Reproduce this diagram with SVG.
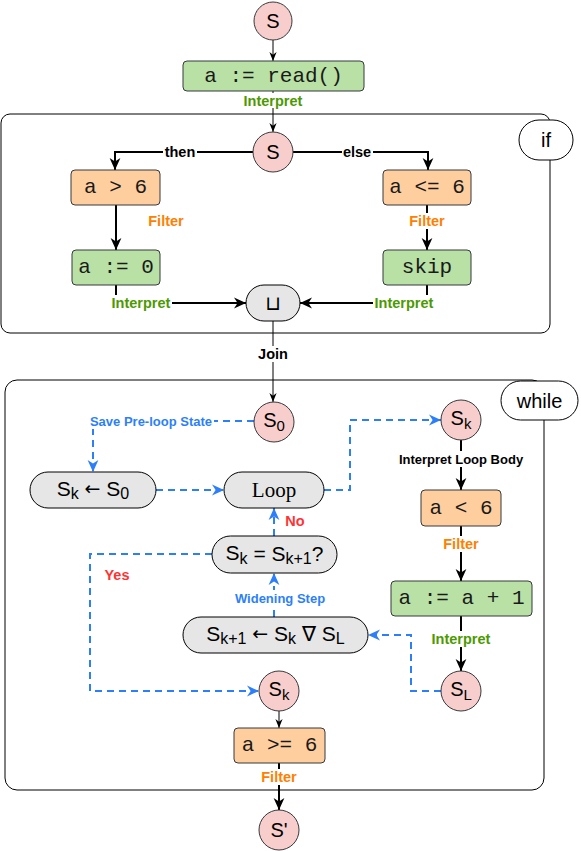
<svg xmlns="http://www.w3.org/2000/svg" width="581" height="851" viewBox="0 0 581 851">
<defs>
<style>
.bg{fill:#fff}
.circ{fill:#F8CECC;stroke:#36393d;stroke-width:1}
.org{fill:#FFCE9F;stroke:#36393d;stroke-width:1}
.grn{fill:#B9E0A5;stroke:#36393d;stroke-width:1}
.gry{fill:#E6E6E6;stroke:#000;stroke-width:1}
.cont{fill:none;stroke:#000;stroke-width:1}
.tag{fill:#fff;stroke:#000;stroke-width:1}
.code{font-family:"Liberation Mono","Courier New",monospace;font-size:21px;fill:#1a1a1a;text-anchor:middle;dominant-baseline:central}
.math{font-family:"Liberation Sans",Arial,"DejaVu Sans",sans-serif;font-size:21px;fill:#000;text-anchor:middle;dominant-baseline:central}
.cm{font-family:"Liberation Sans",Arial,"DejaVu Sans",sans-serif;font-size:20px;fill:#000;text-anchor:middle;dominant-baseline:central}
.arr{font-family:"DejaVu Sans",sans-serif;font-size:19px}
.serif{font-family:"Liberation Serif","Times New Roman",serif;font-size:21px;fill:#000;text-anchor:middle;dominant-baseline:central}
.lbl{font-family:"Liberation Sans",Arial,sans-serif;font-weight:bold;font-size:14.5px;text-anchor:middle;dominant-baseline:central}
.sl{font-family:"Liberation Sans",Arial,sans-serif;font-weight:bold;font-size:13px;text-anchor:middle;dominant-baseline:central}
.g{fill:#4D9900}.o{fill:#FF8000}.k{fill:#000}.b{fill:#2D7FF9}.r{fill:#FF3333}
.e1{fill:none;stroke:#000;stroke-width:1}
.e2{fill:none;stroke:#000;stroke-width:2}
.ed{fill:none;stroke:#2D7FF9;stroke-width:2;stroke-dasharray:7 5}
</style>
<marker id="ak" viewBox="0 0 10 10" refX="10" refY="5" markerWidth="12" markerHeight="12" markerUnits="userSpaceOnUse" orient="auto"><path d="M0,0.5 L10,5 L0,9.5 L3,5 z" fill="#000"/></marker>
<marker id="aks" viewBox="0 0 10 10" refX="10" refY="5" markerWidth="9" markerHeight="9" markerUnits="userSpaceOnUse" orient="auto"><path d="M0,1 L10,5 L0,9 L3,5 z" fill="#000"/></marker>
<marker id="ab" viewBox="0 0 10 10" refX="10" refY="5" markerWidth="12" markerHeight="12" markerUnits="userSpaceOnUse" orient="auto"><path d="M0,0.5 L10,5 L0,9.5 L3,5 z" fill="#2D7FF9"/></marker>
</defs>
<rect x="0" y="0" width="581" height="851" fill="#fff"/>

<g id="if-block"><rect class="cont" x="1" y="114" width="549" height="219" rx="9"/></g>
<g id="while-block"><rect class="cont" x="5" y="380" width="539" height="410" rx="12"/></g>
<g id="if-tag"><rect class="tag" x="519" y="120" width="54" height="40" rx="20"/><text class="cm" x="546" y="140">if</text></g>
<g id="while-tag"><rect class="tag" x="501" y="381" width="77" height="39" rx="19.5"/><text class="cm" x="539.5" y="400.5">while</text></g>

<g id="connectors">
<path class="e1" d="M273,40 L273,61" marker-end="url(#aks)"/>
<path class="e1" d="M273,91 L273,132" marker-end="url(#aks)"/>
<path class="e2" d="M253,152 L115,152 L115,170" marker-end="url(#ak)"/>
<path class="e2" d="M293,152 L428,152 L428,170" marker-end="url(#ak)"/>
<path class="e2" d="M116,205 L116,250" marker-end="url(#ak)"/>
<path class="e2" d="M427,205 L427,250" marker-end="url(#ak)"/>
<path class="e2" d="M116,285 L116,303 L246,303" marker-end="url(#ak)"/>
<path class="e2" d="M427,285 L427,303 L300,303" marker-end="url(#ak)"/>
<path class="e1" d="M273,321 L273,402" marker-end="url(#aks)"/>
<path class="ed" d="M254,421 L93,421 L93,472" marker-end="url(#ab)"/>
<path class="ed" d="M156,490 L224,490" marker-end="url(#ab)"/>
<path class="ed" d="M324,490 L350,490 L350,420 L441,420" marker-end="url(#ab)"/>
<path class="e2" d="M461,440 L461,490" marker-end="url(#ak)"/>
<path class="e2" d="M461,526 L461,581" marker-end="url(#ak)"/>
<path class="e2" d="M461,616 L461,671" marker-end="url(#ak)"/>
<path class="ed" d="M441,691 L411,691 L411,635 L368,635" marker-end="url(#ab)"/>
<path class="ed" d="M274,617 L274,573" marker-end="url(#ab)"/>
<path class="ed" d="M274,536 L274,508" marker-end="url(#ab)"/>
<path class="ed" d="M212,554 L90,554 L90,691 L259,691" marker-end="url(#ab)"/>
<path class="e1" d="M279,711 L279,728" marker-end="url(#aks)"/>
<path class="e2" d="M279,763 L279,810" marker-end="url(#ak)"/>

<rect class="bg" x="242" y="93" width="62" height="15"/><text class="lbl g" x="273" y="100.5">Interpret</text>
<rect class="bg" x="163" y="144" width="34" height="16"/><text class="lbl k" x="180" y="152">then</text>
<rect class="bg" x="342" y="144" width="31" height="16"/><text class="lbl k" x="357" y="152">else</text>
<text class="lbl o" x="166" y="221">Filter</text>
<rect class="bg" x="408" y="213" width="39" height="16"/><text class="lbl o" x="427" y="221">Filter</text>
<rect class="bg" x="110" y="295" width="62" height="16"/><text class="lbl g" x="141" y="303">Interpret</text>
<rect class="bg" x="373" y="295" width="62" height="16"/><text class="lbl g" x="404" y="303">Interpret</text>
<rect class="bg" x="257" y="346" width="33" height="16"/><text class="lbl k" x="273" y="354">Join</text>
<rect class="bg" x="89" y="413" width="125" height="16"/><text class="sl b" x="151" y="421">Save Pre-loop State</text>
<rect class="bg" x="398" y="451" width="127" height="16"/><text class="sl k" x="461" y="459">Interpret Loop Body</text>
<rect class="bg" x="442" y="536" width="39" height="16"/><text class="lbl o" x="461" y="544">Filter</text>
<rect class="bg" x="430" y="631" width="62" height="16"/><text class="lbl g" x="461" y="639">Interpret</text>
<rect class="bg" x="234" y="590" width="92" height="16"/><text class="sl b" x="280" y="598">Widening Step</text>
<text class="lbl r" x="295" y="521">No</text>
<text class="lbl r" x="117" y="575">Yes</text>
<rect class="bg" x="260" y="769" width="39" height="16"/><text class="lbl o" x="279" y="777">Filter</text>
</g>

<g id="s-top"><circle class="circ" cx="273" cy="21" r="19"/><text class="cm" x="273" y="21">S</text></g>
<g id="read"><rect class="grn" x="183" y="61" width="181" height="30" rx="4"/><text class="code" x="273.5" y="76">a := read()</text></g>
<g id="s-if"><circle class="circ" cx="273" cy="152" r="20"/><text class="cm" x="273" y="152">S</text></g>
<g id="gt6"><rect class="org" x="71" y="170" width="89" height="35" rx="4"/><text class="code" x="115.5" y="187.5">a &gt; 6</text></g>
<g id="assign0"><rect class="grn" x="72" y="250" width="88" height="35" rx="4"/><text class="code" x="116" y="267.5">a := 0</text></g>
<g id="le6"><rect class="org" x="383" y="170" width="88" height="35" rx="4"/><text class="code" x="427" y="187.5">a &lt;= 6</text></g>
<g id="skip"><rect class="grn" x="383" y="250" width="88" height="35" rx="4"/><text class="code" x="427" y="267.5">skip</text></g>
<g id="join"><rect class="gry" x="246" y="285" width="54" height="36" rx="18"/><text class="cm" x="273" y="303" font-size="26">⊔</text></g>
<g id="s0"><circle class="circ" cx="274" cy="422" r="20"/><text class="cm" x="274" y="420">S<tspan font-size="15" dy="5">0</tspan></text></g>
<g id="init"><rect class="gry" x="30" y="472" width="126" height="36" rx="18"/><text class="math" x="93" y="488">S<tspan font-size="16" dy="5">k</tspan><tspan dy="-5"> </tspan><tspan class="arr">←</tspan><tspan> S</tspan><tspan font-size="16" dy="5">0</tspan></text></g>
<g id="loop"><rect class="gry" x="224" y="472" width="100" height="36" rx="18"/><text class="serif" x="274" y="490">Loop</text></g>
<g id="sk-top"><circle class="circ" cx="461" cy="420" r="20"/><text class="cm" x="461" y="418">S<tspan font-size="15" dy="5">k</tspan></text></g>
<g id="lt6"><rect class="org" x="421" y="490" width="80" height="36" rx="4"/><text class="code" x="461" y="508">a &lt; 6</text></g>
<g id="incr"><rect class="grn" x="391" y="581" width="141" height="35" rx="4"/><text class="code" x="461.5" y="598.5">a := a + 1</text></g>
<g id="sl"><circle class="circ" cx="461" cy="691" r="20"/><text class="cm" x="461" y="689">S<tspan font-size="15" dy="5">L</tspan></text></g>
<g id="widen"><rect class="gry" x="183" y="617" width="185" height="36" rx="18"/><text class="math" x="275.5" y="633">S<tspan font-size="16" dy="5">k+1</tspan><tspan dy="-5"> </tspan><tspan class="arr">←</tspan><tspan> S</tspan><tspan font-size="16" dy="5">k</tspan><tspan dy="-5"> ∇ S</tspan><tspan font-size="16" dy="5">L</tspan></text></g>
<g id="check"><rect class="gry" x="212" y="536" width="125" height="37" rx="18.5"/><text class="math" x="274.5" y="552.5">S<tspan font-size="16" dy="5">k</tspan><tspan dy="-5"> = S</tspan><tspan font-size="16" dy="5">k+1</tspan><tspan dy="-5">?</tspan></text></g>
<g id="sk-bot"><circle class="circ" cx="279" cy="691" r="20"/><text class="cm" x="279" y="689">S<tspan font-size="15" dy="5">k</tspan></text></g>
<g id="ge6"><rect class="org" x="234" y="728" width="91" height="35" rx="4"/><text class="code" x="279.5" y="745.5">a &gt;= 6</text></g>
<g id="s-prime"><circle class="circ" cx="279" cy="830" r="20"/><text class="cm" x="279" y="830">S'</text></g>
</svg>
